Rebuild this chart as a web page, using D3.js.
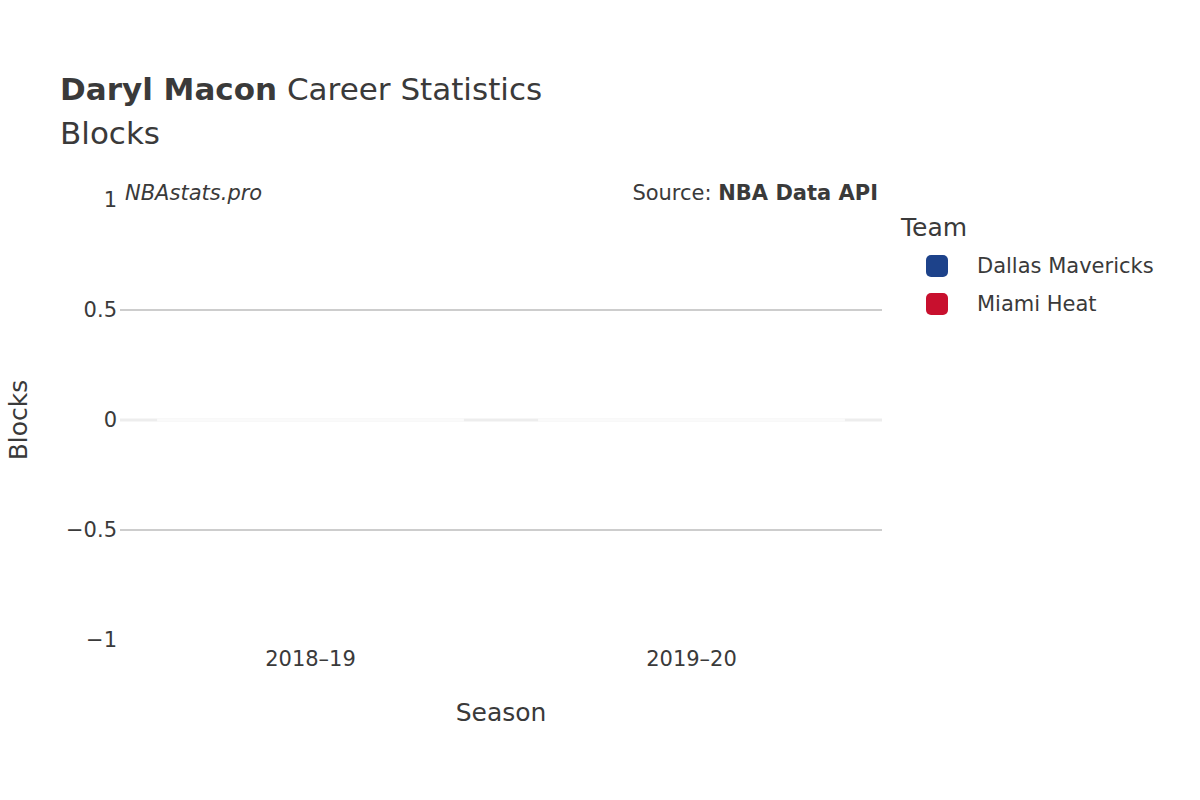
<!DOCTYPE html>
<html>
<head>
<meta charset="utf-8">
<script src="https://cdn.jsdelivr.net/npm/d3@7"></script>
<style>body{margin:0;background:#fff}text{font-family:"DejaVu Sans",sans-serif;fill:#3a3a3a}</style>
</head>
<body>
<svg id="chart" width="1200" height="800"></svg>
<script>
const seasons = ['2018–19', '2019–20'];
const teams = ['Dallas Mavericks', 'Miami Heat'];
const teamColors = ['#1d428a', '#c8102e'];
const barTeam = ['Dallas Mavericks', 'Miami Heat'];
const blocks = [0, 0];
const yTicks = [-1, -0.5, 0, 0.5, 1];

const svg = d3.select('#chart');
const x = d3.scaleBand().domain(seasons).range([120, 882]).paddingInner(0.2).paddingOuter(0.1);
const y = d3.scaleLinear().domain([-1, 1]).range([640, 200]);

const grid = svg.append('g');
grid.selectAll('line').data(yTicks.filter(d => d !== 0 && Math.abs(d) !== 1)).join('line')
  .attr('x1', 120).attr('x2', 882).attr('y1', d => y(d)).attr('y2', d => y(d))
  .attr('stroke', '#bdbdbd').attr('stroke-width', 1.5);
svg.append('line').attr('x1', 120).attr('x2', 882).attr('y1', y(0)).attr('y2', y(0))
  .attr('stroke', '#ededed').attr('stroke-width', 3);

svg.append('g').selectAll('rect').data(seasons).join('rect')
  .attr('x', d => x(d)).attr('width', x.bandwidth())
  .attr('y', (d, i) => y(Math.max(0, blocks[i])) - 0.5)
  .attr('height', (d, i) => Math.abs(y(blocks[i]) - y(0)) + 1)
  .attr('fill', (d, i) => teamColors[teams.indexOf(barTeam[i])])
  .attr('stroke', '#fafafa').attr('stroke-width', 2);

svg.append('g').selectAll('text').data(yTicks).join('text')
  .attr('x', 117).attr('y', d => y(d)).attr('dy', '0.35em').attr('text-anchor', 'end')
  .attr('font-size', 21).text(d => d3.format('.1~f')(d).replace('-', '−'));

svg.append('g').selectAll('text').data(seasons).join('text')
  .attr('x', d => x(d) + x.bandwidth() / 2).attr('y', 666).attr('text-anchor', 'middle')
  .attr('font-size', 21).text(d => d);

svg.append('text').attr('x', 501).attr('y', 721).attr('text-anchor', 'middle').attr('font-size', 25).text('Season');
svg.append('text').attr('transform', 'translate(27,420) rotate(-90)').attr('text-anchor', 'middle').attr('font-size', 25).text('Blocks');

const title = svg.append('text').attr('x', 60).attr('y', 100).attr('font-size', 31);
title.append('tspan').attr('font-weight', 'bold').text('Daryl Macon');
title.append('tspan').text(' Career Statistics');
svg.append('text').attr('x', 60).attr('y', 144).attr('font-size', 31).text('Blocks');

svg.append('text').attr('x', 125).attr('y', 200).attr('font-size', 21).attr('font-style', 'italic').text('NBAstats.pro');
const src = svg.append('text').attr('x', 878).attr('y', 200).attr('font-size', 21).attr('text-anchor', 'end');
src.append('tspan').text('Source: ');
src.append('tspan').attr('font-weight', 'bold').text('NBA Data API');

svg.append('text').attr('x', 901).attr('y', 236).attr('font-size', 25).text('Team');
const leg = svg.append('g').selectAll('g').data(teams).join('g')
  .attr('transform', (d, i) => `translate(926,${266 + i * 38})`);
leg.append('rect').attr('x', 0).attr('y', -11).attr('width', 22).attr('height', 22).attr('rx', 5)
  .attr('fill', (d, i) => teamColors[i]);
leg.append('text').attr('x', 51).attr('dy', '0.35em').attr('font-size', 21).text(d => d);
</script>
</body>
</html>
